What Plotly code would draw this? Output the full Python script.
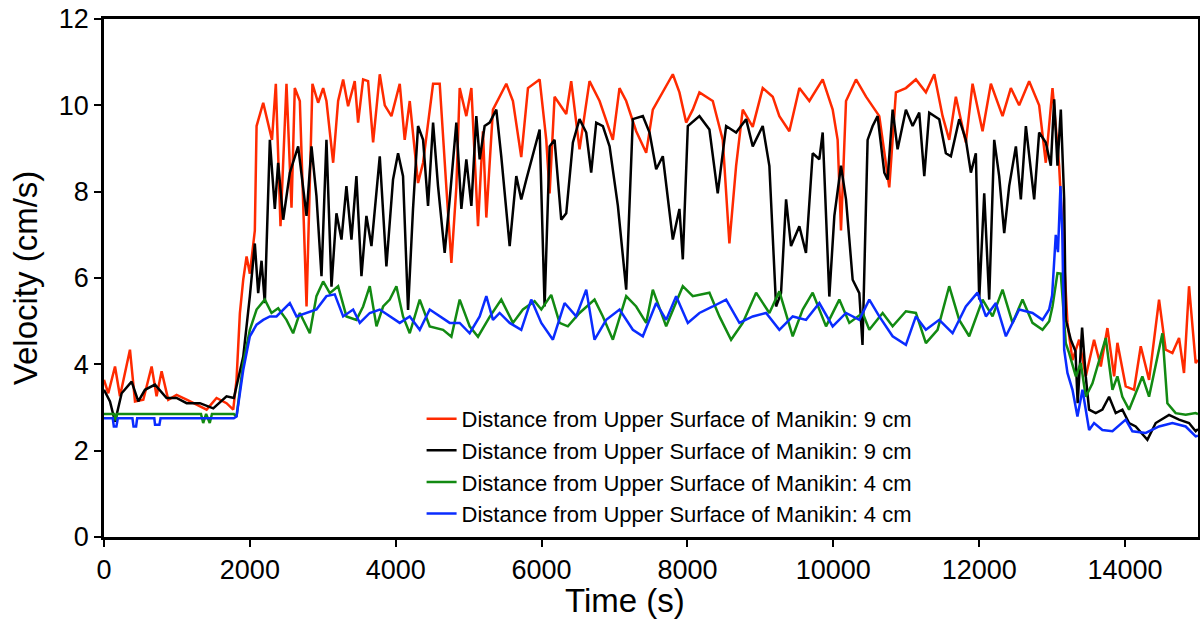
import plotly.graph_objects as go

# ---- data (time s, velocity cm/s) ----
red_9cm = [(0,3.64),(59,3.33),(151,3.95),(219,3.26),(356,4.34),(425,3.14),(539,3.18),(653,3.95),(721,3.26),(790,3.84),
 (881,3.18),(995,3.29),(1133,3.18),(1270,3.06),(1407,2.95),(1543,3.22),(1680,3.1),(1772,2.95),(1817,3.64),(1863,5.18),
 (1909,5.96),(1955,6.5),(2000,6.1),(2068,7.1),(2092,9.52),(2183,10.06),(2303,9.2),(2356,10.5),(2420,7.2),(2502,10.5),
 (2571,7.63),(2616,10.4),(2685,10.1),(2777,5.34),(2858,10.5),(2936,10.06),(3005,10.4),(3050,10.1),(3142,8.67),(3210,10.1),
 (3279,10.6),(3347,9.98),(3438,10.56),(3484,9.6),(3553,10.6),(3621,10.56),(3690,9.14),(3781,10.72),(3850,10.0),(3941,9.75),
 (4055,10.5),(4123,9.2),(4192,10.1),(4306,8.2),(4375,8.67),(4512,10.5),(4603,10.5),(4694,8.1),(4763,6.35),(4831,8.1),
 (4877,10.4),(4968,9.75),(5037,10.4),(5128,7.2),(5196,9.4),(5242,7.4),(5333,9.9),(5516,10.5),(5607,10.1),(5721,8.8),
 (5813,10.4),(5973,10.6),(6064,9.2),(6110,7.96),(6178,10.2),(6338,9.8),(6406,10.56),(6520,8.98),(6657,10.56),(6795,10.1),
 (6977,9.2),(7068,10.4),(7160,10.1),(7297,9.4),(7434,8.9),(7525,9.9),(7662,10.3),(7799,10.72),(7890,10.3),(7982,9.6),
 (8073,9.9),(8164,10.3),(8347,10.1),(8484,9.2),(8575,6.8),(8667,8.6),(8758,9.9),(8895,9.5),(9032,10.4),(9169,10.2),
 (9260,9.75),(9397,9.4),(9534,10.4),(9671,10.1),(9854,10.6),(9991,9.9),(10059,9.2),(10105,7.1),(10174,10.1),(10311,10.6),
 (10448,10.2),(10630,9.75),(10767,8.1),(10858,10.3),(10995,10.4),(11132,10.6),(11269,10.3),(11384,10.72),(11498,9.75),(11589,9.2),
 (11680,10.2),(11817,9.14),(11909,10.5),(12046,9.4),(12160,10.5),(12320,9.75),(12434,10.4),(12548,10.0),(12685,10.56),(12822,10.0),
 (12913,8.67),(13005,10.4),(13096,8.6),(13165,6.27),(13210,4.96),(13279,4.1),(13370,4.57),(13461,3.72),(13575,4.57),(13667,3.95),
 (13758,4.84),(13850,3.72),(13895,4.5),(14009,3.49),(14123,3.41),(14215,4.42),(14329,3.64),(14466,5.5),(14557,4.34),(14649,4.26),
 (14740,4.61),(14808,3.8),(14877,5.81),(14968,4.03),(15000,4.1)]

black_9cm = [(0,3.41),(82,3.14),(151,2.67),(242,3.33),(379,3.6),(470,3.14),(562,3.41),(699,3.53),(858,3.22),(995,3.22),
 (1133,3.1),(1315,3.1),(1498,2.98),(1680,3.26),(1781,3.22),(1909,4.18),(2000,5.58),(2068,6.8),(2114,5.65),(2160,6.4),
 (2205,5.42),(2274,9.2),(2342,7.6),(2388,8.67),(2457,7.35),(2548,8.44),(2662,9.05),(2777,7.44),(2845,9.05),(2913,7.9),
 (2982,6.04),(3050,9.2),(3119,5.8),(3187,7.5),(3256,6.89),(3324,8.13),(3393,6.89),(3461,8.36),(3530,6.04),(3598,7.44),
 (3667,6.74),(3781,8.82),(3872,6.27),(3963,8.28),(4032,8.89),(4100,8.36),(4169,5.26),(4237,7.6),(4306,9.52),(4375,9.2),
 (4443,7.67),(4512,9.6),(4580,8.13),(4671,6.58),(4740,7.82),(4831,9.6),(4900,7.6),(4968,8.75),(5037,7.67),(5105,9.75),
 (5151,8.75),(5219,9.52),(5288,9.6),(5379,9.9),(5447,8.82),(5562,6.74),(5653,8.36),(5721,7.82),(5790,8.28),(5881,8.89),
 (5973,9.44),(6041,5.34),(6110,9.05),(6178,9.2),(6269,7.35),(6338,7.5),(6429,9.14),(6520,9.68),(6612,9.37),(6680,8.44),
 (6749,9.6),(6840,9.52),(6932,9.05),(7046,7.67),(7160,5.73),(7251,9.68),(7388,9.75),(7480,9.37),(7571,8.52),(7662,8.82),
 (7799,6.89),(7890,7.6),(7936,6.43),(8005,9.52),(8164,9.75),(8301,9.44),(8415,7.96),(8530,9.52),(8667,9.37),(8804,9.68),
 (8895,9.05),(9032,9.52),(9123,8.6),(9215,5.34),(9283,5.65),(9352,7.82),(9420,6.74),(9534,7.2),(9625,6.58),(9717,8.89),
 (9808,8.75),(9854,9.37),(9945,5.57),(10014,7.44),(10105,8.6),(10174,7.82),(10265,5.96),(10356,5.65),(10400,4.45),(10470,9.2),
 (10539,9.52),(10607,9.75),(10699,8.44),(10744,8.28),(10813,9.9),(10881,8.98),(10995,9.9),(11087,9.52),(11178,9.83),(11247,8.36),
 (11315,9.83),(11452,9.68),(11543,8.89),(11612,8.82),(11726,9.68),(11817,9.2),(11886,8.44),(11954,8.89),(12000,5.5),(12069,7.96),
 (12137,5.5),(12206,9.2),(12274,8.36),(12343,7.04),(12411,8.13),(12503,9.05),(12571,7.82),(12640,9.52),(12754,7.82),(12822,9.37),
 (12913,9.14),(12982,8.6),(13028,10.14),(13073,8.6),(13119,9.9),(13165,7.82),(13187,5.04),(13256,4.57),(13320,4.3),(13350,3.1),
 (13411,4.85),(13461,3.72),(13507,2.95),(13598,2.87),(13689,2.95),(13781,3.25),(13872,2.87),(13963,2.95),(14055,2.64),(14146,2.56),
 (14306,2.25),(14420,2.64),(14603,2.83),(14740,2.72),(14877,2.64),(14968,2.45),(15000,2.5)]

green_4cm = [(0,2.85),(140,2.85),(160,2.7),(180,2.85),(1330,2.85),(1360,2.64),(1400,2.85),(1450,2.64),(1480,2.85),(1780,2.85),
 (1817,2.79),(1909,4.03),(2000,4.8),(2092,5.27),(2205,5.5),(2297,5.19),(2388,5.3),(2502,5.03),(2593,4.72),(2685,5.19),
 (2822,4.72),(2913,5.58),(3005,5.92),(3096,5.65),(3210,5.81),(3324,5.11),(3461,5.03),(3553,5.34),(3644,5.81),(3736,4.88),
 (3827,5.34),(3918,5.5),(4009,5.81),(4100,5.11),(4192,4.72),(4329,5.5),(4466,4.88),(4649,4.8),(4763,4.64),(4877,5.5),
 (5014,4.88),(5128,4.64),(5288,5.1),(5447,5.5),(5607,4.96),(5744,5.27),(5904,5.46),(5996,5.27),(6132,5.61),(6246,4.96),
 (6360,4.88),(6520,5.19),(6726,5.5),(6840,5.11),(6977,4.57),(7160,5.58),(7297,5.34),(7434,4.96),(7525,5.73),(7708,4.88),
 (7936,5.81),(8073,5.58),(8301,5.66),(8438,5.11),(8598,4.57),(8758,4.96),(8941,5.66),(9123,5.19),(9260,5.69),(9443,4.65),
 (9580,5.27),(9717,5.66),(9900,4.88),(10082,5.5),(10219,4.96),(10402,5.19),(10493,4.8),(10676,5.19),(10813,4.88),(10995,5.23),
 (11132,5.19),(11269,4.49),(11429,4.8),(11589,5.81),(11726,5.03),(11863,4.65),(12046,5.5),(12183,5.11),(12320,5.73),(12457,4.96),
 (12594,5.5),(12731,4.96),(12868,4.8),(12960,5.0),(13005,5.34),(13073,6.11),(13119,6.1),(13187,4.49),(13233,4.26),(13325,3.72),
 (13393,4.03),(13461,3.25),(13553,3.56),(13644,4.1),(13735,4.61),(13827,3.41),(13895,3.72),(13963,3.25),(14055,2.95),(14146,3.33),
 (14237,3.72),(14329,3.25),(14420,3.95),(14512,4.72),(14580,3.1),(14694,2.87),(14831,2.83),(14968,2.87),(15000,2.85)]

blue_4cm = [(0,2.75),(120,2.75),(135,2.56),(170,2.56),(190,2.75),(390,2.75),(405,2.56),(440,2.56),(455,2.75),(690,2.75),
 (700,2.6),(760,2.6),(775,2.75),(1780,2.75),(1817,2.79),(1909,3.87),(2000,4.65),(2092,4.92),(2183,5.03),(2274,5.11),
 (2365,5.11),(2457,5.27),(2548,5.42),(2639,5.11),(2777,5.19),(2913,5.27),(3050,5.58),(3164,5.62),(3279,5.11),(3416,5.27),
 (3507,4.96),(3644,5.19),(3781,5.27),(3918,5.11),(4055,4.96),(4192,5.11),(4329,4.8),(4466,5.27),(4603,5.11),(4740,4.96),
 (4877,4.96),(5014,4.72),(5151,5.11),(5242,5.58),(5333,5.03),(5425,5.19),(5562,4.96),(5721,4.8),(5858,5.5),(5996,4.96),
 (6155,4.57),(6315,5.42),(6474,5.11),(6612,5.73),(6726,4.57),(6886,5.03),(7069,5.27),(7251,4.8),(7388,4.65),(7571,5.42),
 (7708,5.03),(7845,5.58),(8005,4.96),(8164,5.19),(8347,5.34),(8530,5.5),(8712,4.96),(8895,5.11),(9078,5.19),(9260,4.8),
 (9443,5.11),(9626,5.03),(9808,5.42),(9991,4.88),(10174,5.19),(10356,5.03),(10493,5.5),(10630,5.11),(10813,4.65),(10995,4.45),
 (11132,5.11),(11269,4.8),(11452,5.03),(11635,4.72),(11817,5.34),(11977,5.66),(12092,5.11),(12229,5.42),(12366,4.65),(12548,5.27),
 (12731,5.19),(12868,5.03),(12959,5.27),(13000,5.6),(13050,7.0),(13080,6.6),(13114,8.13),(13140,7.0),(13165,4.34),(13210,3.8),
 (13279,3.41),(13347,2.79),(13416,3.41),(13507,2.48),(13575,2.64),(13689,2.48),(13827,2.45),(14009,2.72),(14100,2.45),(14283,2.41),
 (14466,2.56),(14649,2.64),(14831,2.56),(14968,2.33),(15000,2.35)]

series_names = ["Distance from Upper Surface of Manikin: 9 cm",
                "Distance from Upper Surface of Manikin: 9 cm",
                "Distance from Upper Surface of Manikin: 4 cm",
                "Distance from Upper Surface of Manikin: 4 cm"]
series_data = [red_9cm, black_9cm, green_4cm, blue_4cm]
series_colors = ["#ff2a00", "#000000", "#128a12", "#0a2cff"]

x_tick_vals = [0, 2000, 4000, 6000, 8000, 10000, 12000, 14000]
y_tick_vals = [0, 2, 4, 6, 8, 10, 12]

FONT = "Liberation Sans, Arial, Helvetica, sans-serif"

fig = go.Figure()
for name, data, col in zip(series_names, series_data, series_colors):
    fig.add_trace(go.Scatter(
        x=[p[0] for p in data], y=[p[1] for p in data],
        mode="lines", name=name,
        line=dict(color=col, width=2.5),
    ))

axis_common = dict(showgrid=False, zeroline=False, showline=True, linecolor="black",
                   linewidth=2.5, mirror=True, ticks="outside", ticklen=7, tickwidth=2,
                   tickcolor="black", automargin=False,
                   tickfont=dict(family=FONT, size=27, color="black"))

fig.update_layout(
    width=1200, height=623,
    margin=dict(l=104, r=2, t=19, b=86, autoexpand=False),
    paper_bgcolor="white", plot_bgcolor="white",
    showlegend=True,
    legend=dict(x=0.2903, y=0.004, xanchor="left", yanchor="bottom",
                font=dict(family=FONT, size=22, color="black"),
                bgcolor="rgba(0,0,0,0)", borderwidth=0, tracegroupgap=0,
                itemwidth=30),
    xaxis=dict(range=[0, 15000], tickvals=x_tick_vals, tickformat="d", **axis_common),
    yaxis=dict(range=[0, 12], tickvals=y_tick_vals, **axis_common),
    annotations=[
        dict(text="Time (s)", x=0.476, y=-0.122, xref="paper", yref="paper",
             xanchor="center", yanchor="middle", showarrow=False,
             font=dict(family=FONT, size=33, color="black")),
        dict(text="Velocity (cm/s)", x=-0.072, y=0.5, xref="paper", yref="paper",
             xanchor="center", yanchor="middle", showarrow=False, textangle=-90,
             font=dict(family=FONT, size=33, color="black")),
    ],
)

fig.write_html("out.html", config={"displayModeBar": False},
               post_script="document.body.style.margin='0px';document.body.style.overflow='hidden';")
